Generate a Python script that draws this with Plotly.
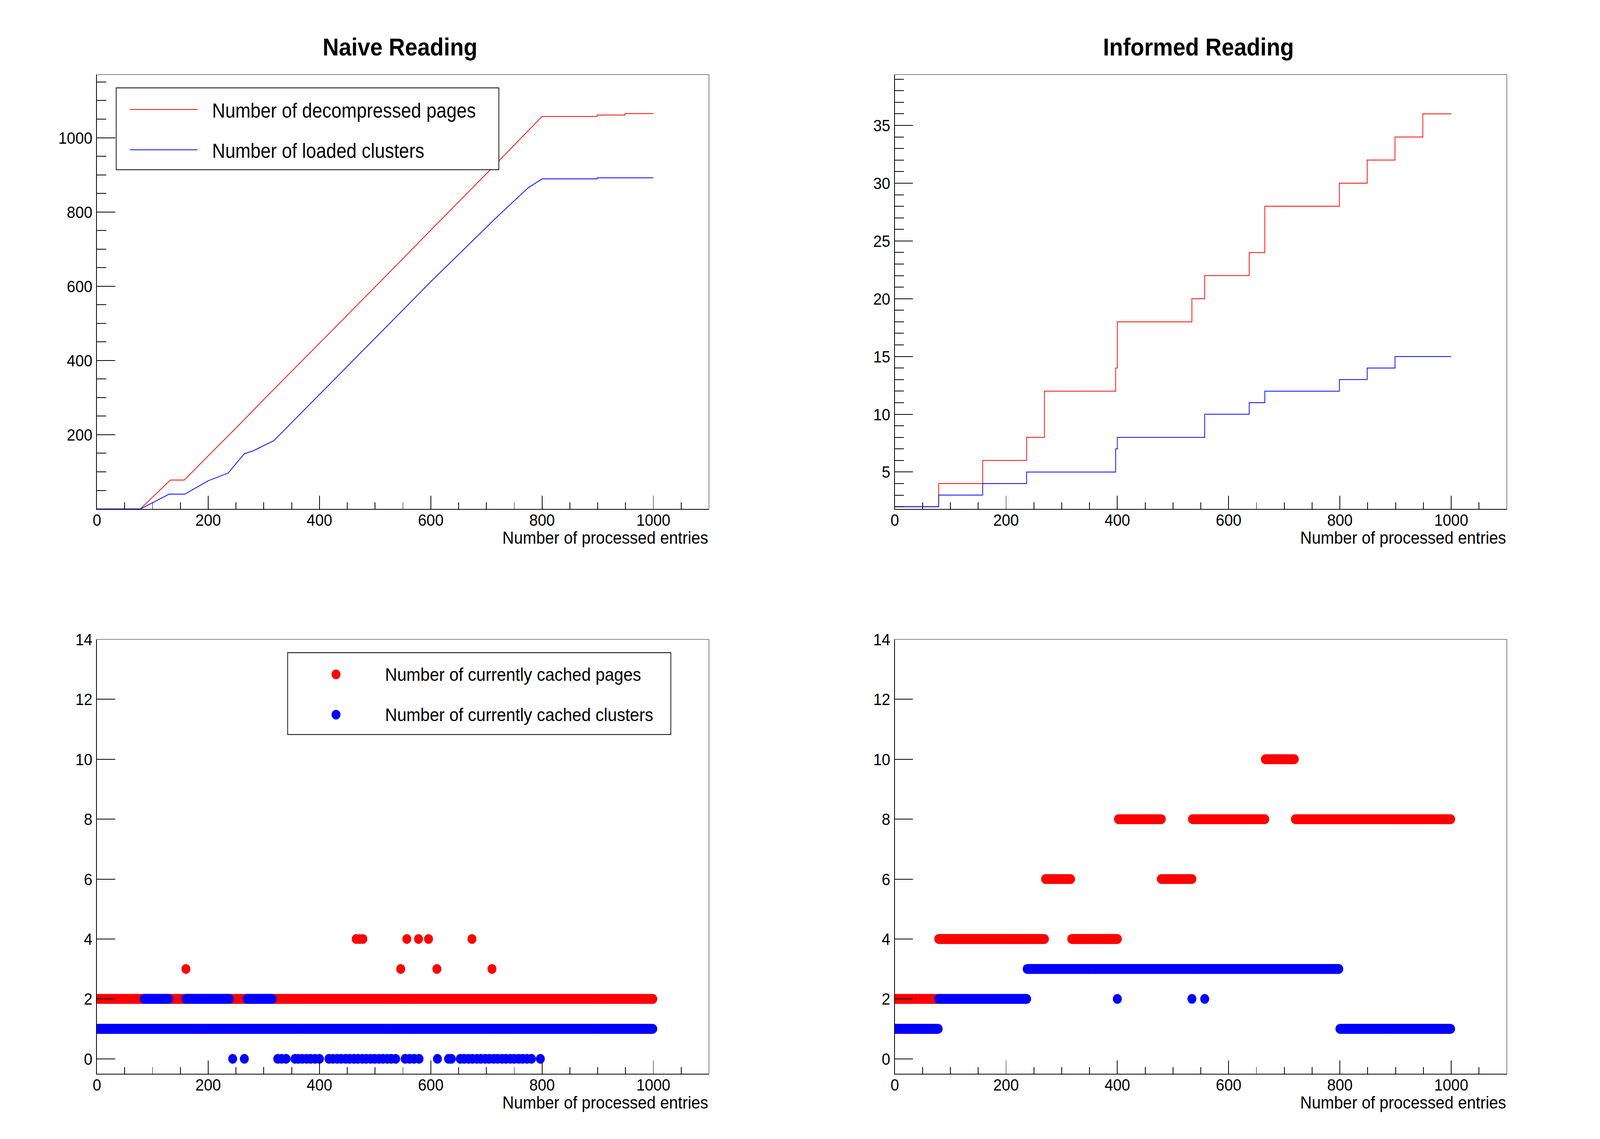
import plotly.graph_objects as go

# ---------------- data ----------------
# Top-left: Naive Reading, cumulative counts vs processed entries
naive_pages_x = [0, 78, 132, 157, 200, 250, 300, 400, 500, 600, 700, 800, 899, 899, 949, 949, 1000]
naive_pages_y = [0, 0, 78, 78, 143, 218, 295, 446, 598, 751, 903, 1057, 1057, 1061, 1061, 1065, 1065]
naive_clusters_x = [0, 78, 130, 158, 200, 236, 265, 280, 318, 400, 500, 600, 720, 775, 800, 899, 899, 1000]
naive_clusters_y = [0, 0, 40, 40, 76, 97, 149, 156, 184, 308, 460, 612, 788, 865, 889, 889, 892, 892]

# Top-right: Informed Reading, cumulative counts (step changes)
informed_pages_x = [0, 79, 158, 237, 269, 397, 400, 534, 557, 637, 665, 799, 849, 899, 949, 1000]
informed_pages_y = [2, 4, 6, 8, 12, 14, 18, 20, 22, 24, 28, 30, 32, 34, 36, 36]
informed_clusters_x = [0, 79, 158, 237, 397, 400, 557, 637, 665, 799, 849, 899, 1000]
informed_clusters_y = [2, 3, 4, 5, 7, 8, 10, 11, 12, 13, 14, 15, 15]

# Bottom-left: Naive Reading, currently cached (runs of consecutive entries + isolated points)
naive_cpages_run_start = [0]
naive_cpages_run_end = [999]
naive_cpages_run_level = [2]
naive_cpages_single_x = [160, 466, 472, 478, 546, 557, 578, 596, 611, 674, 710]
naive_cpages_single_y = [3, 4, 4, 4, 3, 4, 4, 4, 3, 4, 3]

naive_cclusters_run_start = [0, 85, 160, 270]
naive_cclusters_run_end = [999, 129, 238, 315]
naive_cclusters_run_level = [1, 2, 2, 2]
naive_cclusters_single_x = [244, 265, 325, 332, 340, 356, 362, 369, 377, 384, 392, 400,
                            417, 424, 432, 439, 447, 454, 462, 469, 477, 484, 492, 499,
                            507, 514, 522, 529, 537, 554, 562, 570, 579, 612, 632, 637,
                            653, 660, 668, 675, 683, 690, 698, 705, 713, 720, 728, 735,
                            743, 750, 758, 765, 773, 781, 797]
naive_cclusters_single_y = [0] * len(naive_cclusters_single_x)

# Bottom-right: Informed Reading, currently cached
informed_cpages_run_start = [0, 79, 318, 271, 479, 402, 535, 720, 666]
informed_cpages_run_end = [78, 269, 400, 316, 534, 479, 665, 999, 718]
informed_cpages_run_level = [2, 4, 4, 6, 6, 8, 8, 8, 10]
informed_cclusters_run_start = [0, 800, 79, 238]
informed_cclusters_run_end = [78, 999, 237, 798]
informed_cclusters_run_level = [1, 1, 2, 3]
informed_cclusters_single_x = [400, 534, 557]
informed_cclusters_single_y = [2, 2, 2]

titles = ["Naive Reading", "Informed Reading"]
x_title = "Number of processed entries"
legend_top = ["Number of decompressed pages", "Number of loaded clusters"]
legend_bottom = ["Number of currently cached pages", "Number of currently cached clusters"]
x_tickvals = [0, 200, 400, 600, 800, 1000]

RED = "#FF0000"
BLUE = "#0000FF"
FONT = "Liberation Sans, Arial, Helvetica, sans-serif"
W, H = 4488, 2916


def expand(starts, ends, levels, xs=(), ys=()):
    ox, oy = [], []
    for s, e, lv in zip(starts, ends, levels):
        for k in range(s, e + 1):
            ox.append(k)
            oy.append(lv)
    ox += list(xs)
    oy += list(ys)
    return ox, oy


fig = go.Figure()

# top-left
fig.add_trace(go.Scatter(x=naive_pages_x, y=naive_pages_y, mode="lines",
                         line=dict(color=RED, width=2), xaxis="x", yaxis="y", showlegend=False))
fig.add_trace(go.Scatter(x=naive_clusters_x, y=naive_clusters_y, mode="lines",
                         line=dict(color=BLUE, width=2), xaxis="x", yaxis="y", showlegend=False))
# top-right
fig.add_trace(go.Scatter(x=informed_pages_x, y=informed_pages_y, mode="lines", line_shape="hv",
                         line=dict(color=RED, width=2), xaxis="x2", yaxis="y2", showlegend=False))
fig.add_trace(go.Scatter(x=informed_clusters_x, y=informed_clusters_y, mode="lines", line_shape="hv",
                         line=dict(color=BLUE, width=2), xaxis="x2", yaxis="y2", showlegend=False))
# bottom-left
px_, py_ = expand(naive_cpages_run_start, naive_cpages_run_end, naive_cpages_run_level,
                  naive_cpages_single_x, naive_cpages_single_y)
fig.add_trace(go.Scatter(x=px_, y=py_, mode="markers", marker=dict(color=RED, size=25, line_width=0),
                         xaxis="x3", yaxis="y3", showlegend=False))
cx_, cy_ = expand(naive_cclusters_run_start, naive_cclusters_run_end, naive_cclusters_run_level,
                  naive_cclusters_single_x, naive_cclusters_single_y)
fig.add_trace(go.Scatter(x=cx_, y=cy_, mode="markers", marker=dict(color=BLUE, size=25, line_width=0),
                         xaxis="x3", yaxis="y3", showlegend=False))
# bottom-right
px_, py_ = expand(informed_cpages_run_start, informed_cpages_run_end, informed_cpages_run_level)
fig.add_trace(go.Scatter(x=px_, y=py_, mode="markers", marker=dict(color=RED, size=25, line_width=0),
                         xaxis="x4", yaxis="y4", showlegend=False))
cx_, cy_ = expand(informed_cclusters_run_start, informed_cclusters_run_end, informed_cclusters_run_level,
                  informed_cclusters_single_x, informed_cclusters_single_y)
fig.add_trace(go.Scatter(x=cx_, y=cy_, mode="markers", marker=dict(color=BLUE, size=25, line_width=0),
                         xaxis="x4", yaxis="y4", showlegend=False))

XL = [0.05804, 0.44162]
XR = [0.55805, 0.94162]
YT = [0.55772, 0.94228]
YB = [0.05772, 0.44228]

tickfont = dict(family=FONT, size=43, color="black")


def xax(domain, anchor):
    return dict(domain=domain, anchor=anchor, range=[0, 1100], tickmode="array", tickvals=x_tickvals,
                ticks="inside", ticklen=34, tickwidth=2, tickcolor="black",
                minor=dict(ticks="inside", ticklen=17, tickwidth=2, tickcolor="black", dtick=50, tick0=0),
                showline=True, linewidth=2, linecolor="black", showgrid=False, zeroline=False,
                tickfont=tickfont, ticklabelstandoff=-11)


def yax(domain, anchor, rng, tickvals, minor_dtick=None):
    d = dict(domain=domain, anchor=anchor, range=rng, tickmode="array", tickvals=tickvals,
             ticks="inside", ticklen=51, tickwidth=2, tickcolor="black",
             showline=True, linewidth=2, linecolor="black", showgrid=False, zeroline=False,
             tickfont=tickfont, ticklabelstandoff=2)
    if minor_dtick:
        d["minor"] = dict(ticks="inside", ticklen=26, tickwidth=2, tickcolor="black",
                          dtick=minor_dtick, tick0=0)
    return d


layout = dict(
    width=W, height=H, margin=dict(l=0, r=0, t=0, b=0),
    paper_bgcolor="white", plot_bgcolor="white", showlegend=False,
    font=dict(family=FONT, color="black"),
    xaxis=xax(XL, "y"), yaxis=yax(YT, "x", [0, 1170], [200, 400, 600, 800, 1000], 50),
    xaxis2=xax(XR, "y2"), yaxis2=yax(YT, "x2", [1.8, 39.4], [5, 10, 15, 20, 25, 30, 35], 1),
    xaxis3=xax(XL, "y3"), yaxis3=yax(YB, "x3", [-0.5, 14], [0, 2, 4, 6, 8, 10, 12, 14]),
    xaxis4=xax(XR, "y4"), yaxis4=yax(YB, "x4", [-0.5, 14], [0, 2, 4, 6, 8, 10, 12, 14]),
)
fig.update_layout(**layout)

shapes = []
annotations = []
# frame top & right thin lines, x-axis titles (right aligned)
for xd, yd in [(XL, YT), (XR, YT), (XL, YB), (XR, YB)]:
    shapes.append(dict(type="line", xref="paper", yref="paper", x0=xd[0], x1=xd[1], y0=yd[1], y1=yd[1],
                       line=dict(color="black", width=1)))
    shapes.append(dict(type="line", xref="paper", yref="paper", x0=xd[1], x1=xd[1], y0=yd[0], y1=yd[1],
                       line=dict(color="black", width=1)))
    annotations.append(dict(text=x_title, xref="paper", yref="paper", x=xd[1], y=yd[0] - 0.02548,
                            xanchor="right", yanchor="middle", showarrow=False,
                            font=dict(family=FONT, size=45, color="black")))

# titles
for t, xc in zip(titles, [1113 / W, 3359 / W]):
    annotations.append(dict(text="<b>" + t + "</b>", xref="paper", yref="paper", x=xc, y=1 - 96.7 / H,
                            xanchor="center", yanchor="middle", showarrow=False,
                            font=dict(family=FONT, size=63, color="black")))

# legend top-left (box, line samples, texts)
shapes.append(dict(type="rect", xref="paper", yref="paper", x0=314.8 / W, x1=1391 / W,
                   y0=1 - 413.8 / H, y1=1 - 202.7 / H, line=dict(color="black", width=2),
                   fillcolor="white", layer="above"))
for txt, col, yy in zip(legend_top, [RED, BLUE], [258.5, 362.5]):
    shapes.append(dict(type="line", xref="paper", yref="paper", x0=353.5 / W, x1=543.8 / W,
                       y0=1 - yy / H, y1=1 - yy / H, line=dict(color=col, width=2), layer="above"))
    annotations.append(dict(text=txt, xref="paper", yref="paper", x=582.5 / W, y=1 - (yy + 3) / H,
                            xanchor="left", yanchor="middle", showarrow=False,
                            font=dict(family=FONT, size=51, color="black")))
# legend bottom-left
shapes.append(dict(type="rect", xref="paper", yref="paper", x0=797 / W, x1=1874.7 / W,
                   y0=1 - 1871.8 / H, y1=1 - 1660.7 / H, line=dict(color="black", width=2),
                   fillcolor="white", layer="above"))
for txt, col, yy in zip(legend_bottom, [RED, BLUE], [1716.5, 1820.6]):
    shapes.append(dict(type="circle", xref="paper", yref="paper", x0=(933 - 12.5) / W, x1=(933 + 12.5) / W,
                       y0=1 - (yy + 12.5) / H, y1=1 - (yy - 12.5) / H, line=dict(width=0),
                       fillcolor=col, layer="above"))
    annotations.append(dict(text=txt, xref="paper", yref="paper", x=1069 / W, y=1 - yy / H,
                            xanchor="left", yanchor="middle", showarrow=False,
                            font=dict(family=FONT, size=47, color="black")))

fig.update_layout(shapes=shapes, annotations=annotations)

# the browser viewport can be narrower than the requested window: fit the fixed-size figure to it
fit_js = """
var gd = document.getElementById('{plot_id}');
document.documentElement.style.margin = '0';
document.documentElement.style.overflow = 'hidden';
document.body.style.margin = '0';
document.body.style.overflow = 'hidden';
var sx = window.innerWidth / %d, sy = window.innerHeight / %d;
gd.style.transformOrigin = '0 0';
gd.style.transform = 'scale(' + sx + ',' + sy + ')';
""" % (W, H)

fig.write_html("out.html", post_script=fit_js, config={"displayModeBar": False})
